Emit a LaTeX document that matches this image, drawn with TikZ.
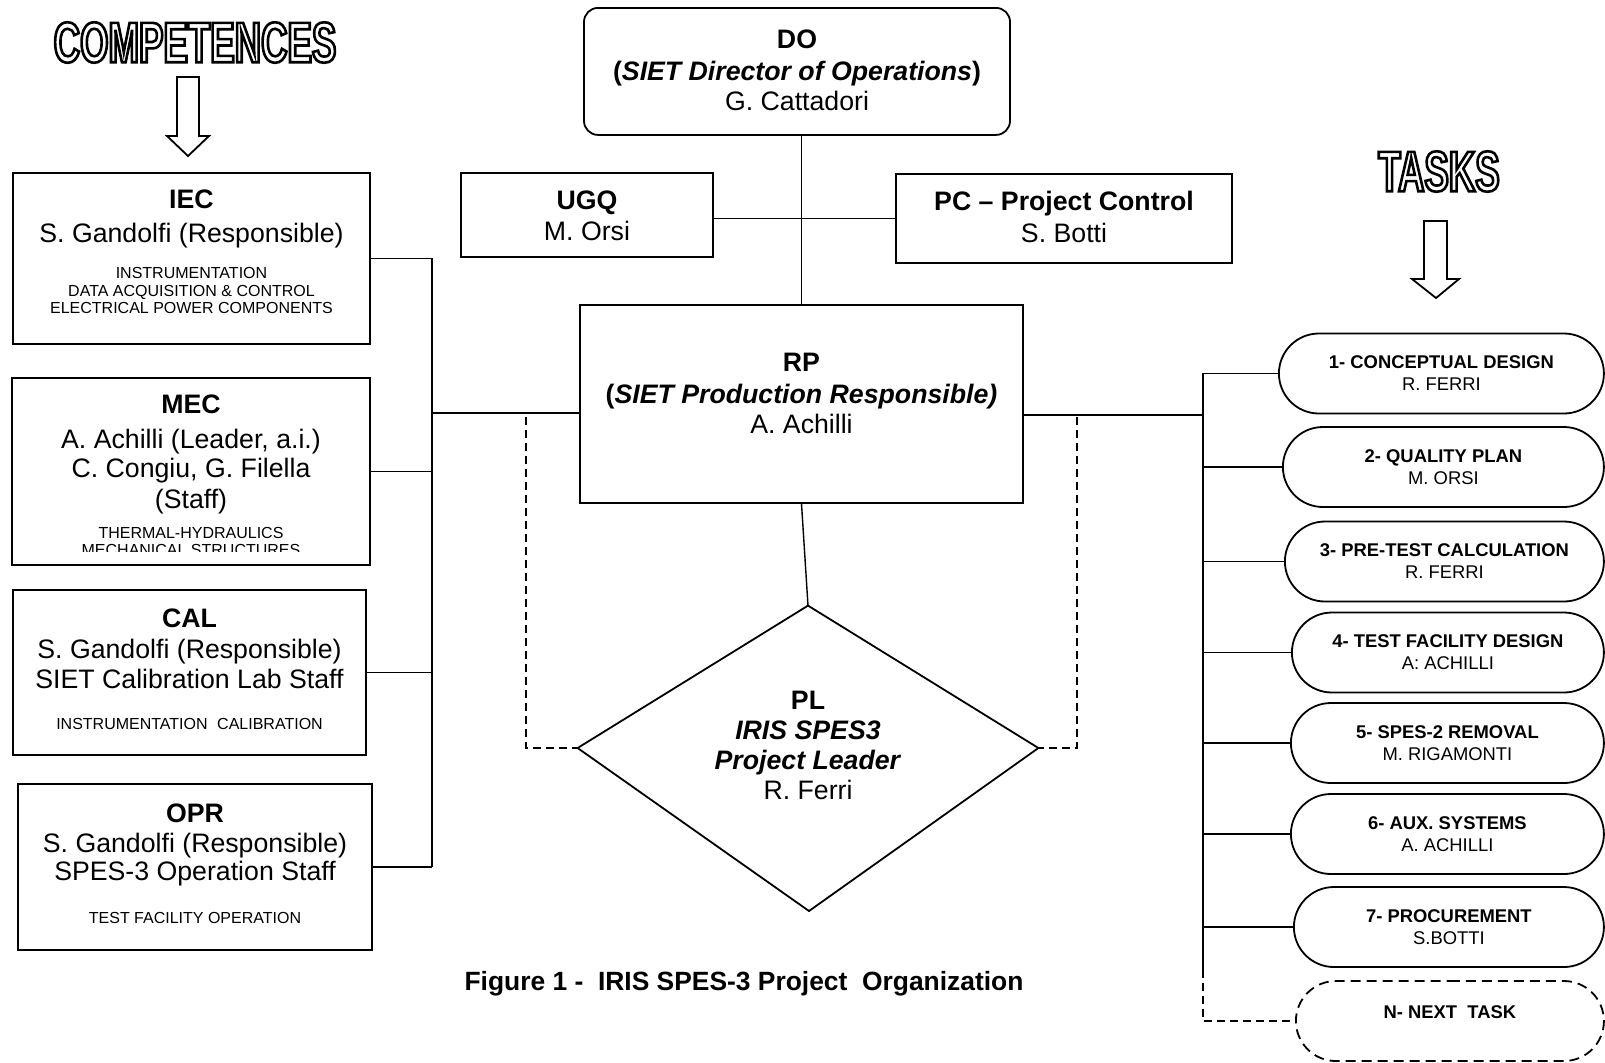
\documentclass[tikz,border=0pt]{standalone}
\usepackage{fontspec}
\setmainfont{Liberation Sans}
\newfontfamily\headfont[FakeStretch=0.64]{Liberation Sans}
\usetikzlibrary{shapes}
\newcommand\bigtxt{\fontsize{13.35}{15}\selectfont}
\newcommand\smalltxt{\fontsize{8}{8.75}\selectfont}
\newcommand\tasktxt{\fontsize{9.2}{11}\selectfont}
\newcommand\outlined[1]{\special{pdf:code 1 Tr 1.3 w}#1\special{pdf:code 0 Tr 0.4 w}}

\begin{document}
\begin{tikzpicture}[x = 0.5pt, y = -0.5pt,
  boxline/.style = {line width = 0.9pt},
  conn/.style = {line width = 0.7pt},
  dashconn/.style = {line width = 0.7pt, dash pattern = on 4pt off 2.5pt},
  compbox/.style = {draw, boxline, anchor = north, inner sep = 0pt, align = flush center, font = \bigtxt},
  taskbox/.style = {draw, boxline, rounded rectangle, anchor = west, inner sep = 0pt,
    minimum height = 40pt, align = center, font = \tasktxt},
  hollow/.style = {draw, line width = 0.9pt, fill = white}]
\useasboundingbox (0,0) rectangle (1605,1062);

% competences (left column)
\node[compbox, text width = 178.5pt, text height = 17.75pt, text depth = 67.75pt] (iec) at (191.5,172)
  {\textbf{IEC}\\[2pt]S. Gandolfi (Responsible)\par\vspace{9.5pt}
   {\smalltxt INSTRUMENTATION\\DATA ACQUISITION \& CONTROL\\ELECTRICAL POWER COMPONENTS\par}};
\begin{scope}
\clip (13,378) rectangle (369,551);
\node[compbox, draw = none, text width = 178pt, text height = 17.25pt, text depth = 75.25pt] (mec) at (191,378)
  {\textbf{MEC}\\[2.5pt]A. Achilli (Leader, a.i.)\\[-0.5pt]C. Congiu, G. Filella\\[0.5pt](Staff)\par\vspace{6.2pt}
   {\smalltxt THERMAL-HYDRAULICS\\MECHANICAL STRUCTURES\par}};
\end{scope}
\draw[boxline] (mec.north west) rectangle (mec.south east);
\node[compbox, text width = 176.5pt, text height = 18.75pt, text depth = 63.75pt] (cal) at (189.5,589)
  {\textbf{CAL}\\[0.5pt]S. Gandolfi (Responsible)\\SIET Calibration Lab Staff\par\vspace{11.9pt}
   {\smalltxt INSTRUMENTATION\hspace{0.6em}CALIBRATION\par}};
\node[compbox, text width = 177pt, text height = 19.25pt, text depth = 63.75pt] (opr) at (195,783)
  {\textbf{OPR}\\S. Gandolfi (Responsible)\\[-1pt]SPES-3 Operation Staff\par\vspace{12.9pt}
   {\smalltxt TEST FACILITY OPERATION\par}};

% management (centre)
\node[compbox, rounded corners = 7pt, text width = 213pt, text height = 20.25pt, text depth = 43.25pt] (do) at (797,7)
  {\textbf{DO}\\[1pt]\textbf{(\textit{SIET Director of Operations})}\\G. Cattadori};
\node[compbox, text width = 126pt, text height = 18.25pt, text depth = 23.75pt] (ugq) at (587,172)
  {\textbf{UGQ}\\[0.5pt]M. Orsi};
\node[compbox, text width = 168pt, text height = 18.25pt, text depth = 26.25pt] (pc) at (1064,173)
  {\textbf{PC \textendash{} Project Control}\\[1pt]S. Botti};
\node[compbox, text width = 221.5pt, text height = 33.25pt, text depth = 65.75pt] (rp) at (801.5,304)
  {\textbf{RP}\\[1pt]\textbf{(\textit{SIET Production Responsible)}}\\A. Achilli};
\node[diamond, aspect = 1.62, minimum width = 230pt, minimum height = 142pt, inner sep = 0pt,
  align = flush center, font = \bigtxt, text height = 54.5pt, text depth = 3pt] (pl) at (808,748)
  {\textbf{PL}\\\textbf{\textit{IRIS SPES3}}\\\textbf{\textit{Project Leader}}\\R. Ferri};
\coordinate (plbot) at (809,911);
\draw[boxline] (pl.north) -- (pl.east) -- (plbot) -- (pl.west) -- cycle;

% tasks (right column)
\node[taskbox, minimum width = 162.5pt] (t1) at (1278,373.5) {\textbf{1- CONCEPTUAL DESIGN}\\R. FERRI};
\node[taskbox, minimum width = 160.5pt] (t2) at (1282,467) {\textbf{2- QUALITY PLAN}\\M. ORSI};
\node[taskbox, minimum width = 159.5pt] (t3) at (1284,561.5) {\textbf{3- PRE-TEST CALCULATION}\\R. FERRI};
\node[taskbox, minimum width = 156pt] (t4) at (1291,652.5) {\textbf{4- TEST FACILITY DESIGN}\\A: ACHILLI};
\node[taskbox, minimum width = 156.5pt] (t5) at (1290,743) {\textbf{5- SPES-2 REMOVAL}\\M. RIGAMONTI};
\node[taskbox, minimum width = 156.5pt] (t6) at (1290,834) {\textbf{6- AUX. SYSTEMS}\\A. ACHILLI};
\node[taskbox, minimum width = 155pt] (t7) at (1293,927) {\textbf{7- PROCUREMENT}\\S.BOTTI};
\node[taskbox, dash pattern = on 5pt off 3pt, minimum width = 154pt, text depth = 9pt] (tn) at (1295,1021)
  {\textbf{N- NEXT\ \ TASK}};

% connectors
\coordinate (lbbot) at (432,867);
\coordinate (rbend) at (1203,970);
\coordinate (dl) at (526,417);
\coordinate (dr) at (1077,417);
\coordinate (rpl) at ([yshift = -4.5pt]rp.west);
\coordinate (rpr) at ([yshift = -5.5pt]rp.east);
\draw[conn] (iec.east) -| (lbbot);
\foreach \n in {mec,cal,opr}
  \draw[conn] (\n.east) -- (\n.east -| lbbot);
\draw[conn] (rpl) -- (rpl -| lbbot);
\draw[conn] (do.south -| rp.north) -- (rp.north);
\draw[conn] (ugq.east |- pc.west) -- (pc.west);
\draw[conn] (rp.south) -- (pl.north);
\draw[dashconn] (dl) |- (pl.west);
\draw[dashconn] (dr) |- (pl.east);
\draw[conn] (rpr) -- (rpr -| rbend);
\draw[conn] (t1.west) -| (rbend);
\foreach \n in {t2,t3,t4,t5,t6,t7}
  \draw[conn] (\n.west) -- (\n.west -| rbend);
\draw[dashconn] (rbend) |- (tn.west);

% caption
\node[font = \bfseries\fontsize{13.2}{15}\selectfont] (cap) at (744,984)
  {Figure 1 -\ \ IRIS SPES-3 Project\ \ Organization};

% headings with hollow arrows
\draw[hollow] (177,77) -- (199,77) -- (199,136) -- (209,136) -- (188,156) -- (167,136) -- (177,136) -- cycle;
\draw[hollow] (1424,221) -- (1447,221) -- (1447,279) -- (1459,279) -- (1436,298) -- (1412,279) -- (1424,279) -- cycle;
\node[font = \headfont\bfseries\fontsize{28.6}{30}\selectfont] (comp) at (195,42.5) {\outlined{COMPETENCES}};
\node[font = \headfont\bfseries\fontsize{28.6}{30}\selectfont] (tasks) at (1439,171.5) {\outlined{TASKS}};
\end{tikzpicture}
\end{document}
